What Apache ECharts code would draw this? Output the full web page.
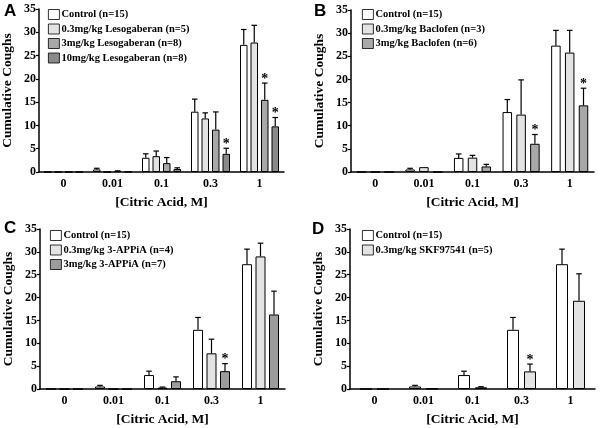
<!DOCTYPE html>
<html><head><meta charset="utf-8">
<script src="https://cdn.jsdelivr.net/npm/echarts@6/dist/echarts.min.js"></script>
<style>html,body{margin:0;padding:0;background:#fff}#c{width:600px;height:428px}</style>
</head><body><div id="c"></div>
<script>
// ---- data ----
const categories = ['0', '0.01', '0.1', '0.3', '1'];
const yMax = 35, yStep = 5;

const controlName = 'Control (n=15)';
const controlMean = [0, 0.55, 3.05, 12.95, 27.3];
const controlErr  = [0, 0.25, 0.85, 2.7, 3.3];
const controlSig  = [0, 0, 0, 0, 0];

// Panel A: Lesogaberan
const lesoLowName = '0.3mg/kg Lesogaberan (n=5)';
const lesoLowMean = [0, 0, 3.4, 11.5, 27.8];
const lesoLowErr  = [0, 0, 1.1, 1.2, 3.7];
const lesoLowSig  = [0, 0, 0, 0, 0];
const lesoMidName = '3mg/kg Lesogaberan (n=8)';
const lesoMidMean = [0, 0.2, 1.9, 9.1, 15.5];
const lesoMidErr  = [0, 0.05, 1.2, 3.8, 3.6];
const lesoMidSig  = [0, 0, 0, 0, 1];
const lesoHighName = '10mg/kg Lesogaberan (n=8)';
const lesoHighMean = [0, 0.05, 0.65, 3.9, 9.8];
const lesoHighErr  = [0, 0, 0.25, 1.2, 1.9];
const lesoHighSig  = [0, 0, 0, 1, 1];

// Panel B: Baclofen
const bacLowName = '0.3mg/kg Baclofen (n=3)';
const bacLowMean = [0, 1.05, 3.1, 12.4, 25.8];
const bacLowErr  = [0, 0, 0.5, 7.5, 4.8];
const bacLowSig  = [0, 0, 0, 0, 0];
const bacHighName = '3mg/kg Baclofen (n=6)';
const bacHighMean = [0, 0, 1.2, 6.1, 14.4];
const bacHighErr  = [0, 0, 0.45, 2.0, 3.7];
const bacHighSig  = [0, 0, 0, 1, 1];

// Panel C: 3-APPiA
const appLowName = '0.3mg/kg 3-APPiA (n=4)';
const appLowMean = [0, 0, 0.3, 7.8, 29.0];
const appLowErr  = [0, 0, 0.12, 3.1, 2.9];
const appLowSig  = [0, 0, 0, 0, 0];
const appHighName = '3mg/kg 3-APPiA (n=7)';
const appHighMean = [0, 0, 1.7, 3.9, 16.3];
const appHighErr  = [0, 0, 0.95, 1.65, 5.1];
const appHighSig  = [0, 0, 0, 1, 0];

// Panel D: SKF97541
const skfName = '0.3mg/kg SKF97541 (n=5)';
const skfMean = [0, 0.05, 0.38, 3.85, 19.3];
const skfErr  = [0, 0, 0.12, 1.6, 5.9];
const skfSig  = [0, 0, 0, 1, 0];

const panelLetters = ['A', 'B', 'C', 'D'];
const xTitle = '[Citric Acid, M]';
const yTitle = 'Cumulative Coughs';

// ---- styling ----
const SERIF = "'Liberation Serif', 'Times New Roman', serif";
const FILL = { white: '#ffffff', light: '#e3e3e3', mid: '#a8a8a8', dark: '#8a8a8a' };

const panels = [
  { grid: { left: 39, top: 9, width: 245, height: 163 }, legend: { left: 48, top: 9 },
    barWidth: 7.5, gap: 3,
    groups: [
      { name: controlName, mean: controlMean, err: controlErr, sig: controlSig, color: FILL.white },
      { name: lesoLowName, mean: lesoLowMean, err: lesoLowErr, sig: lesoLowSig, color: FILL.light },
      { name: lesoMidName, mean: lesoMidMean, err: lesoMidErr, sig: lesoMidSig, color: FILL.mid },
      { name: lesoHighName, mean: lesoHighMean, err: lesoHighErr, sig: lesoHighSig, color: FILL.dark }
    ] },
  { grid: { left: 351, top: 10, width: 243, height: 162 }, legend: { left: 362, top: 9 },
    barWidth: 9.5, gap: 4.3,
    groups: [
      { name: controlName, mean: controlMean, err: controlErr, sig: controlSig, color: FILL.white },
      { name: bacLowName, mean: bacLowMean, err: bacLowErr, sig: bacLowSig, color: FILL.light },
      { name: bacHighName, mean: bacHighMean, err: bacHighErr, sig: bacHighSig, color: FILL.mid }
    ] },
  { grid: { left: 40, top: 229, width: 245, height: 162 }, legend: { left: 50, top: 230 },
    barWidth: 10, gap: 3.5,
    groups: [
      { name: controlName, mean: controlMean, err: controlErr, sig: controlSig, color: FILL.white },
      { name: appLowName, mean: appLowMean, err: appLowErr, sig: appLowSig, color: FILL.light },
      { name: appHighName, mean: appHighMean, err: appHighErr, sig: appHighSig, color: '#9c9c9c' }
    ] },
  { grid: { left: 350, top: 229, width: 245, height: 162 }, legend: { left: 362, top: 230 },
    barWidth: 12, gap: 5,
    groups: [
      { name: controlName, mean: controlMean, err: controlErr, sig: controlSig, color: FILL.white },
      { name: skfName, mean: skfMean, err: skfErr, sig: skfSig, color: FILL.light }
    ] }
];

const option = {
  animation: false,
  backgroundColor: '#fff',
  grid: [], xAxis: [], yAxis: [], series: [], legend: [], title: []
};

const letterPos = [[4, 3], [314, 3], [4, 220], [312, 221]];

panels.forEach((p, gi) => {
  option.grid.push(Object.assign({ containLabel: false }, p.grid));
  option.xAxis.push({
    type: 'category', gridIndex: gi, data: categories,
    axisLine: { lineStyle: { color: '#000', width: 1.5 } },
    axisTick: { alignWithLabel: true, length: 4, lineStyle: { color: '#000', width: 1.2 } },
    axisLabel: { margin: 6, color: '#000', fontFamily: SERIF, fontWeight: 'bold', fontSize: 12 },
    name: xTitle, nameLocation: 'middle', nameGap: 24,
    nameTextStyle: { color: '#000', fontFamily: SERIF, fontWeight: 'bold', fontSize: 13.5 }
  });
  option.yAxis.push({
    type: 'value', gridIndex: gi, min: 0, max: yMax, interval: yStep,
    axisLine: { show: true, lineStyle: { color: '#000', width: 1.5 } },
    axisTick: { show: true, length: 3, lineStyle: { color: '#000', width: 1.2 } },
    splitLine: { show: false },
    axisLabel: { margin: 3, color: '#000', fontFamily: SERIF, fontWeight: 'bold', fontSize: 12 },
    name: yTitle, nameLocation: 'middle', nameGap: 24,
    nameTextStyle: { color: '#000', fontFamily: SERIF, fontWeight: 'bold', fontSize: 13.5 }
  });
  option.legend.push({
    data: p.groups.map(g => g.name), orient: 'vertical',
    left: p.legend.left, top: p.legend.top, padding: 0,
    icon: 'rect', itemWidth: 11, itemHeight: 10, itemGap: 3.5,
    selectedMode: false,
    itemStyle: { borderColor: '#000', borderWidth: 0.8 },
    textStyle: { color: '#000', fontFamily: SERIF, fontWeight: 'bold', fontSize: 10.5, padding: [0, 0, 0, -3] }
  });
  option.title.push({
    text: panelLetters[gi], left: letterPos[gi][0], top: letterPos[gi][1], padding: 0,
    textStyle: { fontFamily: "'Liberation Sans', Arial, sans-serif", fontWeight: 'bold', fontSize: 17, color: '#000' }
  });

  const n = p.groups.length, w = p.barWidth, gap = p.gap;
  const total = n * w + (n - 1) * gap;
  p.groups.forEach((g, i) => {
    option.series.push({
      type: 'bar', name: g.name, xAxisIndex: gi, yAxisIndex: gi,
      data: g.mean, barWidth: w, barGap: (gap / w * 100) + '%',
      itemStyle: { color: g.color, borderColor: '#000', borderWidth: 1 },
      z: 2
    });
    const off = -total / 2 + i * (w + gap) + w / 2;
    option.series.push({
      type: 'custom', xAxisIndex: gi, yAxisIndex: gi, z: 5,
      data: g.mean.map((m, k) => [k, m, g.err[k], g.sig[k]]),
      renderItem: function (params, api) {
        const k = api.value(0), m = api.value(1), e = api.value(2), s = api.value(3);
        const base = api.coord([k, m]);
        const top = api.coord([k, m + e]);
        const x = base[0] + off;
        const children = [];
        if (e > 0) {
          children.push({ type: 'line', shape: { x1: x, y1: base[1], x2: x, y2: top[1] },
            style: { stroke: '#000', lineWidth: 1.2 } });
          children.push({ type: 'line', shape: { x1: x - 2.8, y1: top[1], x2: x + 2.8, y2: top[1] },
            style: { stroke: '#000', lineWidth: 1.2 } });
        }
        if (s) {
          children.push({ type: 'text', style: { text: '*', x: x, y: top[1] + 3, align: 'center',
            verticalAlign: 'bottom', fill: '#000', font: 'bold 14px ' + SERIF } });
        }
        return { type: 'group', children: children };
      }
    });
  });
});

const chart = echarts.init(document.getElementById('c'), null, { renderer: 'canvas' });
chart.setOption(option);
</script>
</body></html>
